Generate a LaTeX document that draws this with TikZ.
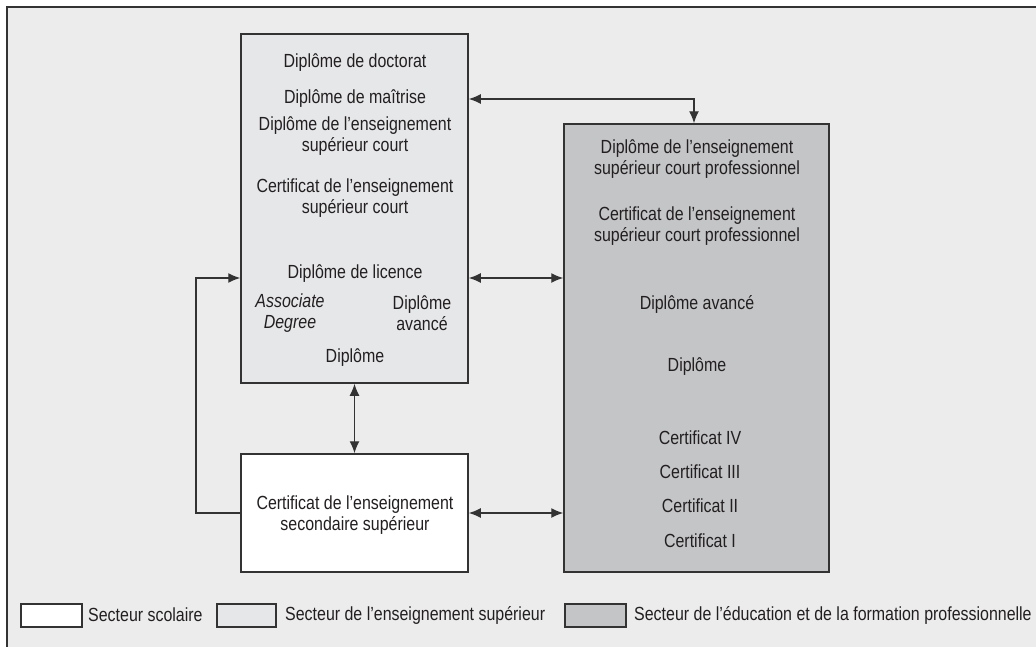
\documentclass[tikz,border=0pt]{standalone}
\usepackage{fontspec}
\setmainfont{Liberation Sans}[FakeStretch=0.84]
\usepackage{tikz}
\usetikzlibrary{arrows.meta}
\definecolor{bgcol}{HTML}{ECECEC}
\definecolor{highcol}{HTML}{E6E7E9}
\definecolor{voccol}{HTML}{C4C5C7}
\definecolor{linecol}{HTML}{333333}
\definecolor{textcol}{HTML}{231F20}

\begin{document}
\begin{tikzpicture}[x=1pt, y=-1pt, font=\fontsize{19}{21}\selectfont, text=textcol,
		box_style/.style={draw=linecol, line width=1.5pt, inner sep=0pt},
		key_style/.style={draw=linecol, line width=1.3pt, minimum width=61pt, minimum height=23pt, inner sep=0pt},
		label_style/.style={align=center, inner sep=0pt},
		edge_style/.style={draw=linecol, line width=1.4pt},
		tip/.tip={Latex[length=12pt,width=10pt]}]

		\clip (0,0) rectangle (1036,646);
		\draw[fill=bgcol, draw=linecol, line width=1.8pt] (7,7) rectangle (1060,670);

		% the three sectors
		\node[box_style, fill=highcol, minimum width=227pt, minimum height=349pt] (hed) at (354.5,208.5) {};
		\node[box_style, fill=voccol, minimum width=265pt, minimum height=448pt] (voc) at (696.5,348) {};
		\node[box_style, fill=white, minimum width=227pt, minimum height=118pt] (sch) at (354.5,513) {};

		% higher education
		\node[label_style] (h1) at (355,63) {Diplôme de doctorat};
		\node[label_style] (h2) at (355,99) {Diplôme de maîtrise};
		\node[label_style] (h3) at (355,136) {Diplôme de l’enseignement\\supérieur court};
		\node[label_style] (h4) at (355,198) {Certificat de l’enseignement\\supérieur court};
		\node[label_style] (h5) at (355,274) {Diplôme de licence};
		\node[label_style, font=\fontsize{19}{21}\selectfont\itshape] (h6) at (290,313.5) {Associate\\Degree};
		\node[label_style] (h7) at (422,313.5) {Diplôme\\avancé};
		\node[label_style] (h8) at (355,358) {Diplôme};

		% vocational education
		\node[label_style] (v1) at (697,159) {Diplôme de l’enseignement\\supérieur court professionnel};
		\node[label_style] (v2) at (697,226) {Certificat de l’enseignement\\supérieur court professionnel};
		\node[label_style] (v3) at (697,304) {Diplôme avancé};
		\node[label_style] (v4) at (697,367) {Diplôme};
		\node[label_style] (v5) at (700,438) {Certificat IV};
		\node[label_style] (v6) at (700,472) {Certificat III};
		\node[label_style] (v7) at (700,506) {Certificat II};
		\node[label_style] (v8) at (700,541) {Certificat I};

		% school
		\node[label_style] (s1) at (355,515) {Certificat de l’enseignement\\secondaire supérieur};

		% legend
		\node[key_style, fill=white] (k1) at (51.5,615.5) {};
		\node[label_style, anchor=west] (l1) at (88,615) {Secteur scolaire};
		\node[key_style, fill=highcol, minimum width=59pt] (k2) at (246.5,615.5) {};
		\node[label_style, anchor=west] (l2) at (285,615) {Secteur de l’enseignement supérieur};
		\node[key_style, fill=voccol] (k3) at (595.5,615.5) {};
		\node[label_style, anchor=west] (l3) at (634,615) {Secteur de l’éducation et de la formation professionnelle};

		\coordinate (c1) at (694,99);
		\coordinate (c2) at (500,278);
		\coordinate (c3) at (196,278);

		\draw[edge_style, tip-tip] (hed.east |- c1) -| (voc.north -| c1);
		\draw[edge_style, tip-tip] (hed.east |- c2) -- (voc.west |- c2);
		\draw[edge_style, tip-tip] (hed.south) -- (sch.north);
		\draw[edge_style, tip-tip] (sch.east) -- (voc.west |- sch.east);
		\draw[edge_style, -tip] (sch.west) -| (c3) -- (hed.west |- c3);
\end{tikzpicture}
\end{document}
